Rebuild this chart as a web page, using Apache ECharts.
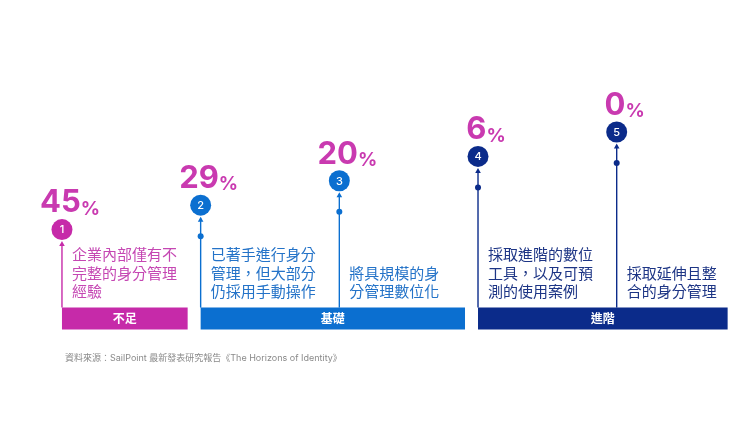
<!DOCTYPE html>
<html>
<head>
<meta charset="utf-8">
<script src="https://cdn.jsdelivr.net/npm/echarts@6/dist/echarts.min.js"></script>
<style>
  html, body { margin: 0; padding: 0; background: #fff; }
  #chart { width: 750px; height: 422px; }
</style>
</head>
<body>
<div id="chart"></div>
<script>
// stage data
var stageNums = ['1', '2', '3', '4', '5'];
var percents = [45, 29, 20, 6, 0];
var descriptions = [
  '企業內部僅有不\n完整的身分管理\n經驗',
  '已著手進行身分\n管理，但大部分\n仍採用手動操作',
  '將具規模的身\n分管理數位化',
  '採取進階的數位\n工具，以及可預\n測的使用案例',
  '採取延伸且整\n合的身分管理'
];
var stageGroup = [0, 1, 1, 2, 2];
var groupNames = ['不足', '基礎', '進階'];
var sourceText = '資料來源：SailPoint 最新發表研究報告《The Horizons of Identity》';

var groupColors = ['#c62aa9', '#0b6fd0', '#0b2b8a'];
var descColors = ['#c547b3', '#2473c8', '#1d3585'];
var pctColor = '#c93ab0';
var cjk = "'Noto Sans CJK TC', sans-serif";
var latin = "Inter, 'Noto Sans CJK TC', sans-serif";

var myChart = echarts.init(document.getElementById('chart'));

// build data for the library
var stageData = stageNums.map(function (s, i) {
  return [i, percents[i], stageGroup[i]];
});
var groupData = groupNames.map(function (g, gi) {
  var first = stageGroup.indexOf(gi);
  var last = stageGroup.lastIndexOf(gi);
  return [first, last, gi];
});

var BAR_H = 22;

function renderStage(params, api) {
  var i = api.value(0);
  var pct = api.value(1);
  var g = api.value(2);
  var c = api.coord([i, i]);
  var barBottom = api.coord([i, -4.1])[1];
  var barTop = barBottom - BAR_H;
  var r = 10.5;
  var col = groupColors[g];
  var children = [];
  // stem
  children.push({
    type: 'line',
    shape: {x1: c[0], y1: barTop, x2: c[0], y2: c[1] + r + 3},
    style: {stroke: col, lineWidth: 1.4}
  });
  // arrow head
  children.push({
    type: 'polygon',
    shape: {points: [[c[0], c[1] + r + 1], [c[0] - 2.8, c[1] + r + 6], [c[0] + 2.8, c[1] + r + 6]]},
    style: {fill: col}
  });
  // dot on the stem
  if (i > 0) {
    children.push({
      type: 'circle',
      shape: {cx: c[0], cy: c[1] + 31, r: 3},
      style: {fill: col}
    });
  }
  // stage circle
  children.push({
    type: 'circle',
    shape: {cx: c[0], cy: c[1], r: r},
    style: {fill: col}
  });
  children.push({
    type: 'text',
    style: {
      text: stageNums[i], x: c[0], y: c[1] + 0.5,
      align: 'center', verticalAlign: 'middle',
      fill: '#fff', font: '500 11px ' + latin
    }
  });
  // percentage
  children.push({
    type: 'text',
    style: {
      text: '{n|' + pct + '}{p|%}',
      x: c[0] + 8, y: c[1] - 11,
      align: 'center', verticalAlign: 'bottom',
      rich: {
        n: {fontSize: 31, fontWeight: 'bold', fontFamily: latin, fill: pctColor, verticalAlign: 'bottom', lineHeight: 32},
        p: {fontSize: 19, fontWeight: 'bold', fontFamily: latin, fill: pctColor, verticalAlign: 'bottom', lineHeight: 26}
      }
    }
  });
  // description
  children.push({
    type: 'text',
    style: {
      text: descriptions[i], x: c[0] + 10, y: barTop - 7,
      align: 'left', verticalAlign: 'bottom',
      fill: descColors[g], fontSize: 15, lineHeight: 18.5, fontFamily: cjk
    }
  });
  return {type: 'group', children: children};
}

function renderGroup(params, api) {
  var first = api.value(0);
  var last = api.value(1);
  var g = api.value(2);
  var x0 = api.coord([first, 0])[0];
  var x1;
  if (g < groupNames.length - 1) {
    x1 = api.coord([last + 1, 0])[0] - 13;
  } else {
    x1 = api.coord([last + 0.8, 0])[0];
  }
  var bottom = api.coord([first, -4.1])[1];
  return {
    type: 'group',
    children: [{
      type: 'rect',
      shape: {x: x0, y: bottom - BAR_H, width: x1 - x0, height: BAR_H},
      style: {fill: groupColors[g]}
    }, {
      type: 'text',
      style: {
        text: groupNames[g], x: (x0 + x1) / 2, y: bottom - BAR_H / 2,
        align: 'center', verticalAlign: 'middle',
        fill: '#fff', font: 'bold 12px ' + cjk
      }
    }]
  };
}

var option = {
  animation: false,
  backgroundColor: '#fff',
  title: {
    text: sourceText,
    left: 60, top: 349,
    textStyle: {fontSize: 9, fontWeight: 'normal', color: '#8a8a8a', fontFamily: latin}
  },
  grid: {left: 6.5, width: 735, top: 83.2, height: 246.4},
  xAxis: {type: 'value', min: -0.4, max: 4.9, show: false},
  yAxis: {type: 'value', min: -4.1, max: 6, show: false},
  series: [
    {
      type: 'custom',
      renderItem: renderGroup,
      data: groupData,
      silent: true
    },
    {
      type: 'custom',
      renderItem: renderStage,
      data: stageData,
      silent: true
    }
  ]
};
myChart.setOption(option);
</script>
</body>
</html>
